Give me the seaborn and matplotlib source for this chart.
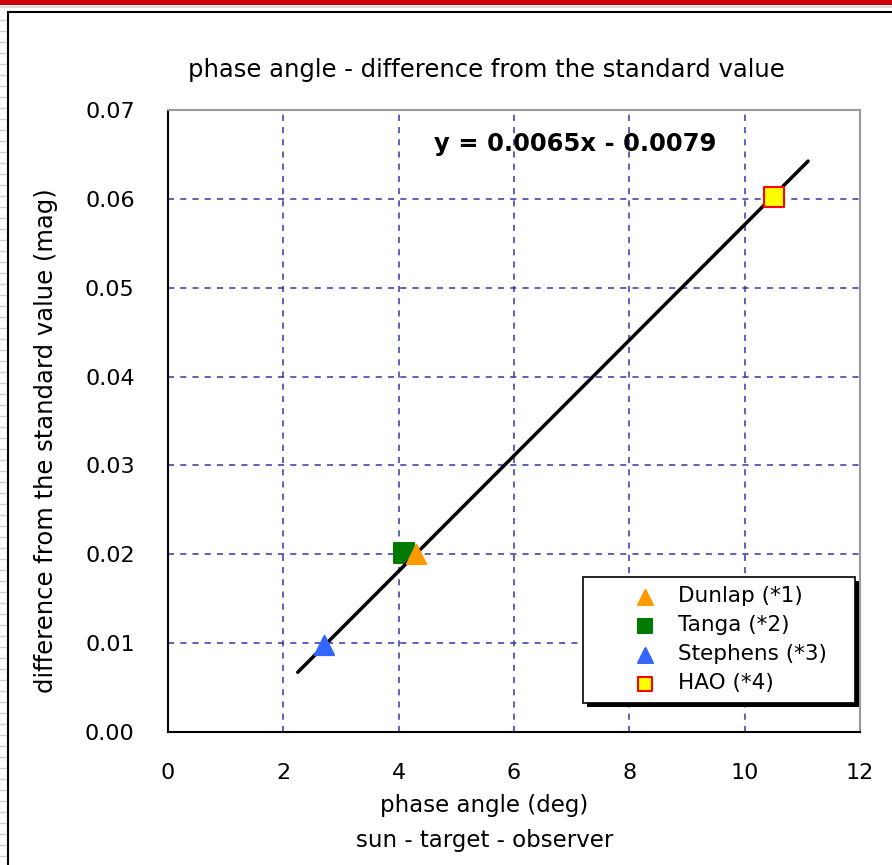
import matplotlib
matplotlib.use("Agg")
import matplotlib.pyplot as plt
import seaborn as sns
import pandas as pd
import numpy as np
from matplotlib.patches import Rectangle

sns.set_theme(style="white")
plt.rcParams['font.family'] = ['DejaVu Sans']
plt.rcParams['text.color'] = 'black'
plt.rcParams['axes.labelcolor'] = 'black'
plt.rcParams['xtick.color'] = 'black'
plt.rcParams['ytick.color'] = 'black'

# data
sources = ["Dunlap (*1)", "Tanga (*2)", "Stephens (*3)", "HAO (*4)"]
phase_angle = [4.3, 4.1, 2.7, 10.5]
diff_mag = [0.0200, 0.0202, 0.0098, 0.0602]
fit_slope = 0.0065
fit_intercept = -0.0079
fit_range = [2.25, 11.1]
xticks = [0, 2, 4, 6, 8, 10, 12]
yticks = [0.00, 0.01, 0.02, 0.03, 0.04, 0.05, 0.06, 0.07]

df = pd.DataFrame({"source": sources, "x": phase_angle, "y": diff_mag})

W, H = 892, 865
fig = plt.figure(figsize=(W / 100, H / 100), dpi=100)
fig.patch.set_facecolor("white")

# page decorations: red band, outer frame
fig.add_artist(Rectangle((0, 1 - 5 / H), 1, 5 / H, transform=fig.transFigure,
                         facecolor="#cc0000", edgecolor="none"))
fig.add_artist(Rectangle((0, 1 - 8 / H), 1, 2 / H, transform=fig.transFigure,
                         facecolor="#dddddd", edgecolor="none"))
fig.add_artist(plt.Line2D([8 / W, 8 / W], [0, 1 - 12 / H], transform=fig.transFigure,
                          color="black", lw=1.5))
fig.add_artist(plt.Line2D([8 / W, 1], [1 - 12 / H, 1 - 12 / H], transform=fig.transFigure,
                          color="black", lw=1.5))
for yy in range(20, H, 11):
    fig.add_artist(plt.Line2D([0, 6 / W], [1 - yy / H, 1 - yy / H], transform=fig.transFigure,
                              color="#cccccc", lw=1))

ax = fig.add_axes([168 / W, 1 - 732 / H, (860 - 168) / W, (732 - 110) / H])

# fit line
xf = np.array(fit_range)
ax.plot(xf, fit_slope * xf + fit_intercept, color="black", lw=2.5, zorder=3)

palette = {"Dunlap (*1)": "#ff9900", "Tanga (*2)": "#007a00",
           "Stephens (*3)": "#3366ff", "HAO (*4)": "#ffff00"}
markers = {"Dunlap (*1)": "^", "Tanga (*2)": "s", "Stephens (*3)": "^", "HAO (*4)": "s"}
edges = {"Dunlap (*1)": "#ff9900", "Tanga (*2)": "#007a00",
         "Stephens (*3)": "#3366ff", "HAO (*4)": "#ff0000"}

for s in ["Dunlap (*1)", "Tanga (*2)", "Stephens (*3)", "HAO (*4)"]:
    sub = df[df.source == s]
    sns.scatterplot(data=sub, x="x", y="y", ax=ax, marker=markers[s], s=190,
                    color=palette[s], edgecolor=edges[s], linewidth=1.5,
                    label=s, zorder=4 if s != "Tanga (*2)" else 2)

ax.set_xlim(0, 12)
ax.set_ylim(0, 0.07)
ax.set_xticks(xticks)
ax.set_yticks(yticks)
ax.set_xticklabels([str(t) for t in xticks], fontsize=16)
ax.set_yticklabels([f"{t:.2f}" for t in yticks], fontsize=16)
ax.tick_params(axis="x", pad=22, length=0)
ax.tick_params(axis="y", pad=24, length=0)
ax.grid(True, color="#3535a8", linestyle=(0, (4, 4)), lw=1.1)
ax.set_axisbelow(True)
for side in ["left", "bottom"]:
    ax.spines[side].set_color("black")
    ax.spines[side].set_linewidth(1.5)
for side in ["top", "right"]:
    ax.spines[side].set_color("#999999")
    ax.spines[side].set_linewidth(1.5)

ax.set_xlabel("phase angle (deg)\nsun - target - observer", fontsize=16.5,
              linespacing=1.65)
ax.xaxis.set_label_coords(0.457, -0.0997, transform=ax.transAxes)
ax.xaxis.label.set_va("top")
ax.set_ylabel("difference from the standard value (mag)", fontsize=17.5)
ax.yaxis.set_label_coords(-0.159, 0.469, transform=ax.transAxes)
fig.text(486 / W, 1 - 70 / H, "phase angle - difference from the standard value",
         fontsize=17.5, ha="center", va="center")

ax.text(0.588, 0.945, "y = 0.0065x - 0.0079", transform=ax.transAxes,
        fontsize=17.5, fontweight="bold", ha="center", va="center")

# legend with shadow
leg = ax.legend(loc="lower left", bbox_to_anchor=(0.5997, 0.0466, 0.393, 0.2),
                mode="expand", fontsize=15.5,
                frameon=True, fancybox=False, shadow=False, borderpad=0.45,
                labelspacing=0.42, handlelength=4.9, handletextpad=-0.92,
                markerscale=0.78, borderaxespad=0)
frame = leg.get_frame()
frame.set_edgecolor("black")
frame.set_linewidth(1.2)
frame.set_alpha(1)
fig.canvas.draw()
bb = leg.get_window_extent().transformed(ax.transAxes.inverted())
ax.add_patch(Rectangle((bb.x0 + 0.006, bb.y0 - 0.007), bb.width, bb.height,
                       transform=ax.transAxes, facecolor="black", edgecolor="none",
                       zorder=4.9))
leg.set_zorder(5)

fig.savefig("out.png", dpi=100)
